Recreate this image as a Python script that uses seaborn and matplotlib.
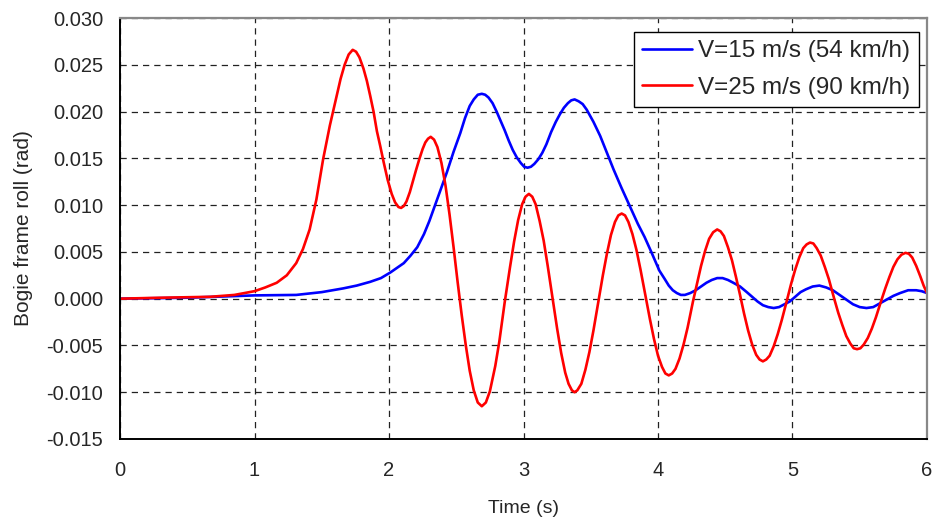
import pandas as pd
import matplotlib
matplotlib.use('Agg')
import matplotlib.pyplot as plt
from matplotlib.ticker import MultipleLocator, FormatStrFormatter
import seaborn as sns

# V=15 m/s (54 km/h) - time (s) and bogie frame roll (rad)
t15 = [0, 0.5, 1.0, 1.31, 1.5, 1.66, 1.76, 1.86, 1.94, 2.01, 2.06, 2.11, 2.16, 2.21, 2.26,
       2.30, 2.33, 2.38, 2.43, 2.48, 2.53, 2.565, 2.60, 2.63, 2.66, 2.69, 2.715, 2.74, 2.77,
       2.80, 2.83, 2.86, 2.89, 2.92, 2.95, 2.98, 3.005, 3.03, 3.055, 3.08, 3.11, 3.14, 3.17,
       3.205, 3.24, 3.27, 3.30, 3.33, 3.355, 3.38, 3.41, 3.44, 3.47, 3.52, 3.57, 3.62, 3.67,
       3.73, 3.79, 3.85, 3.90, 3.95, 4.01, 4.05, 4.08, 4.11, 4.14, 4.17, 4.20, 4.24, 4.28,
       4.32, 4.36, 4.40, 4.44, 4.48, 4.52, 4.56, 4.61, 4.66, 4.70, 4.74, 4.78, 4.82, 4.86,
       4.90, 4.94, 4.98, 5.02, 5.06, 5.10, 5.15, 5.20, 5.25, 5.30, 5.35, 5.40, 5.45, 5.50,
       5.55, 5.60, 5.65, 5.70, 5.75, 5.80, 5.86, 5.92, 5.96, 6.0]
roll15 = [0.0, 0.0001, 0.00035, 0.0004, 0.0007, 0.0011, 0.0014, 0.0018, 0.0022, 0.0028,
          0.0033, 0.0038, 0.0046, 0.0055, 0.0069, 0.0083, 0.0095, 0.0115, 0.0135, 0.0157,
          0.0177, 0.0193, 0.0206, 0.0213, 0.0218, 0.0219, 0.0218, 0.0215, 0.0209, 0.0200,
          0.0190, 0.0180, 0.0169, 0.0159, 0.0151, 0.0145, 0.0141, 0.0140, 0.0141, 0.0144,
          0.0149, 0.0156, 0.0165, 0.0178, 0.0189, 0.0197, 0.0204, 0.0209, 0.0212, 0.0213,
          0.0211, 0.0208, 0.0202, 0.0189, 0.0174, 0.0156, 0.0138, 0.0118, 0.0099, 0.0080,
          0.0066, 0.0050, 0.0030, 0.0021, 0.0014, 0.0009, 0.0006, 0.0004, 0.0004, 0.0006,
          0.0009, 0.0013, 0.0017, 0.0020, 0.0022, 0.0022, 0.0020, 0.0017, 0.0013, 0.0007,
          0.0002, -0.0003, -0.0007, -0.0009, -0.0010, -0.0009, -0.0006, -0.0003, 0.0002,
          0.0007, 0.0010, 0.0013, 0.0014, 0.0012, 0.0009, 0.0004, -0.0001, -0.0006, -0.0009,
          -0.0010, -0.0009, -0.0005, -0.0001, 0.0003, 0.0006, 0.0009, 0.0009, 0.0008, 0.0006]

# V=25 m/s (90 km/h)
t25 = [0, 0.3, 0.67, 0.85, 1.0, 1.08, 1.165, 1.24, 1.31, 1.36, 1.41, 1.46, 1.51, 1.56, 1.61,
       1.64, 1.67, 1.70, 1.73, 1.755, 1.78, 1.81, 1.835, 1.86, 1.885, 1.91, 1.935, 1.96, 1.99,
       2.02, 2.045, 2.07, 2.09, 2.11, 2.13, 2.155, 2.18, 2.20, 2.225, 2.25, 2.27, 2.29, 2.31,
       2.335, 2.36, 2.39, 2.42, 2.45, 2.48, 2.51, 2.54, 2.57, 2.60, 2.63, 2.66, 2.69, 2.72,
       2.75, 2.79, 2.82, 2.86, 2.90, 2.93, 2.96, 2.99, 3.015, 3.04, 3.065, 3.09, 3.12, 3.15,
       3.18, 3.22, 3.25, 3.28, 3.31, 3.335, 3.36, 3.38, 3.40, 3.43, 3.46, 3.49, 3.52, 3.56,
       3.59, 3.62, 3.65, 3.68, 3.705, 3.73, 3.755, 3.78, 3.81, 3.84, 3.87, 3.91, 3.94, 3.97,
       4.00, 4.03, 4.055, 4.08, 4.105, 4.13, 4.16, 4.19, 4.22, 4.26, 4.29, 4.32, 4.35, 4.38,
       4.41, 4.44, 4.465, 4.49, 4.52, 4.55, 4.58, 4.61, 4.64, 4.67, 4.70, 4.73, 4.755, 4.78,
       4.805, 4.83, 4.86, 4.89, 4.92, 4.96, 4.99, 5.02, 5.05, 5.08, 5.105, 5.13, 5.155, 5.18,
       5.21, 5.24, 5.27, 5.31, 5.34, 5.37, 5.40, 5.43, 5.455, 5.48, 5.505, 5.53, 5.56, 5.59,
       5.62, 5.66, 5.69, 5.72, 5.75, 5.78, 5.81, 5.84, 5.865, 5.89, 5.92, 5.95, 5.975, 6.0]
roll25 = [0.0, 0.0001, 0.0002, 0.0004, 0.0008, 0.0012, 0.0017, 0.0025, 0.0038, 0.0053,
          0.0074, 0.0106, 0.0149, 0.0185, 0.0216, 0.0235, 0.0250, 0.0261, 0.0266, 0.0264,
          0.0258, 0.0246, 0.0233, 0.0217, 0.0200, 0.0179, 0.0163, 0.0146, 0.0127, 0.0112,
          0.0103, 0.0098, 0.0097, 0.0099, 0.0104, 0.0114, 0.0127, 0.0137, 0.0149, 0.0160,
          0.0167, 0.0171, 0.0173, 0.0170, 0.0162, 0.0145, 0.0121, 0.0090, 0.0055, 0.0018,
          -0.0017, -0.0049, -0.0077, -0.0098, -0.0111, -0.0115, -0.0111, -0.0099, -0.0072,
          -0.0046, -0.0004, 0.0034, 0.0061, 0.0084, 0.0101, 0.0109, 0.0112, 0.0109, 0.0101,
          0.0083, 0.0062, 0.0035, -0.0003, -0.0032, -0.0058, -0.0079, -0.0091, -0.0098,
          -0.0100, -0.0098, -0.0091, -0.0076, -0.0057, -0.0034, 0.0000, 0.0025, 0.0048,
          0.0068, 0.0082, 0.0089, 0.0091, 0.0089, 0.0082, 0.0069, 0.0052, 0.0031, 0.0001,
          -0.0022, -0.0043, -0.0061, -0.0073, -0.0080, -0.0082, -0.0080, -0.0075, -0.0064,
          -0.0049, -0.0031, -0.0003, 0.0016, 0.0035, 0.0051, 0.0064, 0.0071, 0.0074, 0.0072,
          0.0067, 0.0055, 0.0041, 0.0023, 0.0004, -0.0016, -0.0034, -0.0049, -0.0060,
          -0.0065, -0.0067, -0.0065, -0.0061, -0.0051, -0.0038, -0.0023, -0.0001, 0.0016,
          0.0031, 0.0044, 0.0054, 0.0058, 0.0060, 0.0059, 0.0054, 0.0046, 0.0034, 0.0021,
          0.0000, -0.0015, -0.0028, -0.0040, -0.0048, -0.0053, -0.0054, -0.0053, -0.0049,
          -0.0042, -0.0032, -0.0020, -0.0002, 0.0011, 0.0023, 0.0034, 0.0042, 0.0047, 0.0049,
          0.0048, 0.0044, 0.0035, 0.0024, 0.0014, 0.0006]

labels = ['V=15 m/s (54 km/h)', 'V=25 m/s (90 km/h)']

df = pd.concat([
    pd.DataFrame({'Time (s)': t15, 'roll': roll15, 'case': labels[0]}),
    pd.DataFrame({'Time (s)': t25, 'roll': roll25, 'case': labels[1]}),
])

sns.set_style('white')
plt.rcParams['font.family'] = ['Liberation Sans', 'DejaVu Sans']
plt.rcParams['axes.unicode_minus'] = False

fig = plt.figure(figsize=(9.34, 5.21), dpi=100)
ax = fig.add_axes([0.1285, 0.1574, 0.864, 0.808])

sns.lineplot(data=df, x='Time (s)', y='roll', hue='case', estimator=None, sort=False,
             palette={labels[0]: '#0000FF', labels[1]: '#FF0000'}, linewidth=1.9, ax=ax)

# axis limits and ticks
ax.set_xlim(0, 6)
ax.set_ylim(-0.015, 0.030)
ax.xaxis.set_major_locator(MultipleLocator(1))
ax.yaxis.set_major_locator(MultipleLocator(0.005))
ax.yaxis.set_major_formatter(FormatStrFormatter('%.3f'))
ax.tick_params(direction='inout', length=10, width=1, color='black', labelsize=14.5)
ax.tick_params(axis='y', pad=7)
ax.tick_params(axis='x', pad=11)

# dashed grid
ax.grid(True, color='#222222', linestyle=(0, (5, 4)), linewidth=0.9)
ax.set_axisbelow(True)

# spines: black left/bottom, grey top/right
for s in ['left', 'bottom']:
    ax.spines[s].set_color('black')
    ax.spines[s].set_linewidth(1.4)
for s in ['top', 'right']:
    ax.spines[s].set_color('#888888')
    ax.spines[s].set_linewidth(1.6)

ax.set_xlabel('Time (s)', fontsize=14, labelpad=14)
ax.set_ylabel('Bogie frame roll (rad)', fontsize=15, labelpad=10)

leg = ax.legend(loc='upper right', bbox_to_anchor=(0.990, 0.9675), borderaxespad=0,
                fontsize=17.5, frameon=True, fancybox=False, framealpha=1,
                edgecolor='black', handlelength=2.05, handletextpad=0.25, labelspacing=0.6,
                borderpad=0.35)
leg.get_frame().set_linewidth(1.0)
leg.set_title(None)

plt.savefig('out.png', dpi=100)
